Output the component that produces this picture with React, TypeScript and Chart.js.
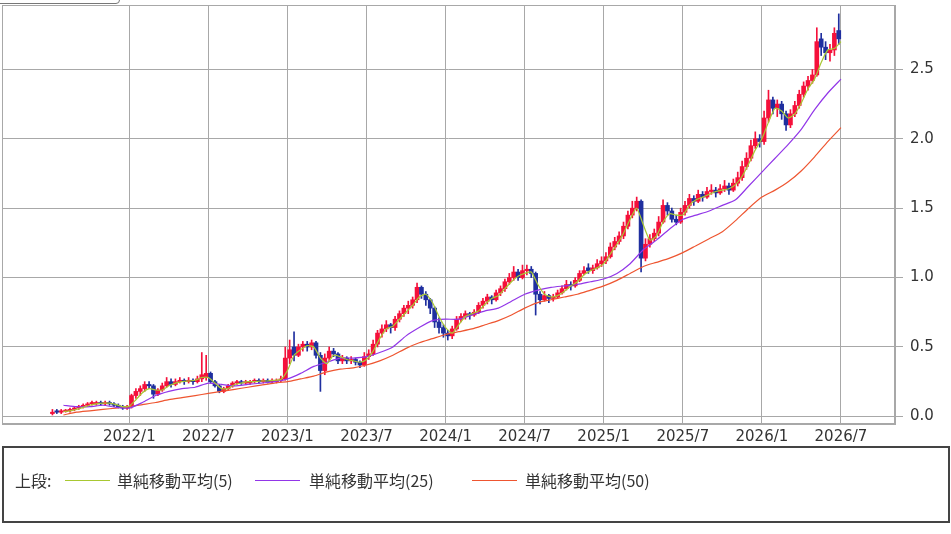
import { useEffect, useRef } from "react";
import { Chart, registerables } from "chart.js";

Chart.register(...registerables);

// x axis unit: months counted from 2021/1 (2022/1 = 12)
const xTickMonths = [12, 18, 24, 30, 36, 42, 48, 54, 60, 66];
const xTickLabels = ["2022/1", "2022/7", "2023/1", "2023/7", "2024/1", "2024/7", "2025/1", "2025/7", "2026/1", "2026/7"];
const yTickValues = [0, 0.5, 1, 1.5, 2, 2.5];

// candles, three per month: [open, high, low, close]
const c2021h2 = [
  [0.02, 0.05, 0.01, 0.03], [0.04, 0.05, 0.02, 0.03], [0.03, 0.05, 0.02, 0.04],
  [0.035, 0.05, 0.03, 0.045], [0.04, 0.06, 0.03, 0.05], [0.05, 0.07, 0.04, 0.06],
  [0.06, 0.08, 0.05, 0.07], [0.07, 0.09, 0.06, 0.08], [0.08, 0.1, 0.07, 0.09],
  [0.09, 0.11, 0.08, 0.1], [0.09, 0.11, 0.08, 0.1], [0.1, 0.11, 0.08, 0.09],
  [0.09, 0.11, 0.08, 0.1], [0.1, 0.11, 0.08, 0.09], [0.09, 0.1, 0.07, 0.08],
  [0.08, 0.09, 0.06, 0.07], [0.07, 0.08, 0.05, 0.06], [0.06, 0.08, 0.05, 0.07],
];
const c2022h1 = [
  [0.07, 0.16, 0.06, 0.15], [0.15, 0.2, 0.13, 0.18], [0.18, 0.22, 0.15, 0.2],
  [0.2, 0.25, 0.18, 0.23], [0.23, 0.25, 0.2, 0.22], [0.22, 0.23, 0.13, 0.16],
  [0.16, 0.2, 0.15, 0.19], [0.19, 0.24, 0.18, 0.22], [0.22, 0.28, 0.21, 0.25],
  [0.25, 0.27, 0.21, 0.23], [0.23, 0.27, 0.22, 0.25], [0.25, 0.28, 0.24, 0.26],
  [0.26, 0.27, 0.23, 0.25], [0.25, 0.28, 0.24, 0.26], [0.26, 0.27, 0.23, 0.25],
  [0.25, 0.29, 0.24, 0.27], [0.27, 0.46, 0.25, 0.3], [0.28, 0.44, 0.26, 0.31],
];
const c2022h2 = [
  [0.31, 0.32, 0.24, 0.25], [0.25, 0.26, 0.21, 0.22], [0.22, 0.23, 0.17, 0.18],
  [0.18, 0.21, 0.17, 0.2], [0.2, 0.23, 0.19, 0.22], [0.22, 0.25, 0.21, 0.24],
  [0.24, 0.26, 0.23, 0.25], [0.25, 0.26, 0.23, 0.24], [0.24, 0.26, 0.23, 0.25],
  [0.24, 0.26, 0.23, 0.25], [0.25, 0.27, 0.24, 0.26], [0.26, 0.27, 0.24, 0.25],
  [0.25, 0.27, 0.24, 0.26], [0.26, 0.27, 0.24, 0.25], [0.25, 0.27, 0.24, 0.26],
  [0.25, 0.27, 0.24, 0.26], [0.26, 0.29, 0.25, 0.27], [0.27, 0.5, 0.26, 0.42],
];
const c2023h1 = [
  [0.42, 0.55, 0.38, 0.48], [0.5, 0.61, 0.4, 0.44], [0.44, 0.52, 0.43, 0.5],
  [0.5, 0.54, 0.47, 0.52], [0.52, 0.54, 0.47, 0.5], [0.5, 0.55, 0.48, 0.53],
  [0.53, 0.54, 0.42, 0.44], [0.44, 0.46, 0.18, 0.33], [0.33, 0.45, 0.3, 0.42],
  [0.42, 0.5, 0.4, 0.47], [0.47, 0.49, 0.43, 0.45], [0.45, 0.46, 0.38, 0.4],
  [0.4, 0.44, 0.38, 0.42], [0.42, 0.43, 0.38, 0.4], [0.4, 0.43, 0.38, 0.41],
  [0.41, 0.42, 0.37, 0.39], [0.39, 0.4, 0.35, 0.37], [0.37, 0.46, 0.36, 0.43],
];
const c2023h2 = [
  [0.43, 0.48, 0.41, 0.45], [0.45, 0.55, 0.44, 0.52], [0.52, 0.62, 0.5, 0.6],
  [0.6, 0.66, 0.57, 0.63], [0.63, 0.69, 0.61, 0.66], [0.66, 0.67, 0.6, 0.64],
  [0.64, 0.72, 0.62, 0.7], [0.7, 0.76, 0.68, 0.74], [0.74, 0.8, 0.72, 0.78],
  [0.78, 0.83, 0.74, 0.8], [0.8, 0.86, 0.78, 0.84], [0.84, 0.96, 0.82, 0.93],
  [0.93, 0.94, 0.85, 0.88], [0.88, 0.9, 0.8, 0.84], [0.84, 0.85, 0.74, 0.78],
  [0.78, 0.79, 0.64, 0.68], [0.68, 0.71, 0.6, 0.64], [0.64, 0.66, 0.57, 0.6],
];
const c2024h1 = [
  [0.6, 0.62, 0.55, 0.58], [0.58, 0.65, 0.56, 0.63], [0.63, 0.72, 0.62, 0.7],
  [0.7, 0.74, 0.68, 0.72], [0.72, 0.76, 0.7, 0.74], [0.74, 0.75, 0.7, 0.73],
  [0.73, 0.77, 0.72, 0.75], [0.75, 0.82, 0.74, 0.8], [0.8, 0.85, 0.78, 0.83],
  [0.83, 0.88, 0.81, 0.86], [0.86, 0.87, 0.81, 0.84], [0.84, 0.91, 0.83, 0.89],
  [0.89, 0.94, 0.87, 0.92], [0.92, 0.99, 0.9, 0.97], [0.97, 1.03, 0.95, 1.0],
  [1.0, 1.08, 0.98, 1.04], [1.04, 1.06, 0.98, 1.0], [1.0, 1.09, 0.99, 1.05],
];
const c2024h2 = [
  [1.05, 1.09, 1.02, 1.06], [1.06, 1.08, 1.0, 1.03], [1.03, 1.04, 0.73, 0.88],
  [0.88, 0.9, 0.81, 0.84], [0.84, 0.9, 0.83, 0.87], [0.87, 0.88, 0.82, 0.85],
  [0.85, 0.88, 0.83, 0.86], [0.86, 0.91, 0.85, 0.89], [0.89, 0.94, 0.88, 0.92],
  [0.92, 0.98, 0.91, 0.95], [0.95, 0.97, 0.91, 0.94], [0.94, 1.0, 0.93, 0.98],
  [0.98, 1.05, 0.97, 1.03], [1.03, 1.08, 1.02, 1.05], [1.07, 1.1, 1.03, 1.05],
  [1.05, 1.09, 1.03, 1.07], [1.07, 1.13, 1.06, 1.1], [1.1, 1.15, 1.08, 1.12],
];
const c2025h1 = [
  [1.12, 1.18, 1.1, 1.15], [1.15, 1.25, 1.14, 1.22], [1.22, 1.29, 1.2, 1.26],
  [1.26, 1.33, 1.24, 1.3], [1.3, 1.4, 1.28, 1.37], [1.37, 1.48, 1.35, 1.45],
  [1.45, 1.55, 1.43, 1.5], [1.5, 1.58, 1.48, 1.55], [1.55, 1.56, 1.04, 1.14],
  [1.14, 1.28, 1.12, 1.24], [1.24, 1.31, 1.22, 1.28], [1.28, 1.35, 1.26, 1.32],
  [1.32, 1.44, 1.3, 1.4], [1.4, 1.56, 1.39, 1.52], [1.52, 1.54, 1.45, 1.48],
  [1.48, 1.5, 1.4, 1.42], [1.42, 1.45, 1.38, 1.4], [1.4, 1.5, 1.39, 1.47],
];
const c2025h2 = [
  [1.47, 1.55, 1.45, 1.52], [1.52, 1.6, 1.5, 1.57], [1.57, 1.59, 1.52, 1.55],
  [1.55, 1.63, 1.54, 1.6], [1.6, 1.62, 1.55, 1.58], [1.58, 1.65, 1.57, 1.62],
  [1.62, 1.67, 1.6, 1.63], [1.63, 1.65, 1.58, 1.61], [1.61, 1.67, 1.6, 1.64],
  [1.64, 1.7, 1.62, 1.66], [1.66, 1.68, 1.6, 1.63], [1.63, 1.71, 1.62, 1.68],
  [1.68, 1.76, 1.66, 1.72], [1.72, 1.84, 1.7, 1.8], [1.8, 1.9, 1.78, 1.86],
  [1.86, 1.99, 1.84, 1.95], [1.95, 2.05, 1.93, 2.0], [2.0, 2.03, 1.94, 1.98],
];
const c2026h1 = [
  [1.98, 2.2, 1.96, 2.15], [2.15, 2.35, 2.12, 2.28], [2.28, 2.3, 2.18, 2.22],
  [2.22, 2.28, 2.16, 2.25], [2.25, 2.27, 2.14, 2.18], [2.18, 2.2, 2.06, 2.1],
  [2.1, 2.21, 2.08, 2.18], [2.18, 2.27, 2.16, 2.24], [2.24, 2.35, 2.22, 2.32],
  [2.32, 2.41, 2.3, 2.38], [2.38, 2.45, 2.35, 2.42], [2.42, 2.5, 2.4, 2.46],
  [2.46, 2.8, 2.45, 2.7], [2.72, 2.76, 2.6, 2.66], [2.66, 2.7, 2.57, 2.62],
  [2.62, 2.68, 2.56, 2.64], [2.64, 2.8, 2.6, 2.76], [2.78, 2.9, 2.68, 2.72],
];
const candleBlocks = [c2021h2, c2022h1, c2022h2, c2023h1, c2023h2, c2024h1, c2024h2, c2025h1, c2025h2, c2026h1];
const blockStartMonths = [6, 12, 18, 24, 30, 36, 42, 48, 54, 60];

// moving averages
const ma5Start = 7; // every half month
const ma5 = [
  0.035, 0.04, 0.05, 0.065, 0.08, 0.09, 0.095, 0.095, 0.085, 0.07,
  0.075, 0.12, 0.17, 0.2, 0.19, 0.19, 0.22, 0.24, 0.25, 0.255, 0.26, 0.28,
  0.28, 0.24, 0.2, 0.2, 0.23, 0.24, 0.25, 0.25, 0.255, 0.255, 0.26, 0.265,
  0.33, 0.44, 0.48, 0.51, 0.5, 0.42, 0.38, 0.44, 0.43, 0.41, 0.4, 0.39,
  0.41, 0.47, 0.56, 0.63, 0.65, 0.7, 0.75, 0.8, 0.86, 0.88, 0.82, 0.72,
  0.64, 0.6, 0.66, 0.72, 0.74, 0.76, 0.81, 0.85, 0.87, 0.92, 0.97, 1.01,
  1.03, 1.04, 0.95, 0.88, 0.86, 0.87, 0.9, 0.94, 0.97, 1.02, 1.05, 1.07,
  1.1, 1.17, 1.24, 1.32, 1.42, 1.5, 1.38, 1.27, 1.3, 1.4, 1.46, 1.45,
  1.45, 1.52, 1.56, 1.58, 1.6, 1.62, 1.63, 1.64, 1.67, 1.73, 1.82, 1.92,
  2.0, 2.12, 2.22, 2.2, 2.15, 2.18, 2.26, 2.36, 2.43, 2.55, 2.64, 2.65,
  2.7,
];
const maStart = 7; // every month
const ma25 = [
  0.08, 0.07, 0.07, 0.08, 0.065, 0.06, 0.1, 0.15, 0.18, 0.2,
  0.21, 0.24, 0.23, 0.22, 0.23, 0.24, 0.25, 0.27, 0.31, 0.36,
  0.39, 0.42, 0.42, 0.43, 0.46, 0.5, 0.58, 0.64, 0.69, 0.7,
  0.7, 0.73, 0.76, 0.78, 0.83, 0.88, 0.91, 0.93, 0.94, 0.95,
  0.97, 0.99, 1.03, 1.1, 1.2, 1.27, 1.35, 1.42, 1.45, 1.48,
  1.52, 1.56, 1.66, 1.76, 1.86, 1.96, 2.07, 2.21, 2.33, 2.43,
];
const ma50 = [
  0.01, 0.03, 0.04, 0.05, 0.06, 0.07, 0.085, 0.1, 0.12, 0.135,
  0.15, 0.165, 0.18, 0.195, 0.21, 0.225, 0.24, 0.25, 0.27, 0.29,
  0.32, 0.34, 0.35, 0.37, 0.4, 0.44, 0.49, 0.53, 0.56, 0.59,
  0.61, 0.63, 0.66, 0.69, 0.73, 0.78, 0.82, 0.84, 0.86, 0.88,
  0.91, 0.94, 0.98, 1.03, 1.08, 1.11, 1.14, 1.18, 1.23, 1.28,
  1.33, 1.41, 1.5, 1.58, 1.63, 1.69, 1.77, 1.87, 1.98, 2.08,
];

const UP = "#f5103a";
const DOWN = "#1f2f9f";
const MA5_COLOR = "#a8c832";
const MA25_COLOR = "#9236e8";
const MA50_COLOR = "#ee5530";
const GRID = "#a8a8a8";
const TEXT = "#333";

const candles = candleBlocks.flatMap((block, b) =>
  block.map(([o, h, l, c], i) => ({ x: blockStartMonths[b] + (i + 0.5) / 3, o, h, l, c }))
);

const frame = {
  id: "frame",
  beforeDatasetsDraw(chart: Chart) {
    const { ctx, chartArea: a } = chart;
    ctx.save();
    ctx.strokeStyle = GRID;
    ctx.lineWidth = 1;
    ctx.strokeRect(a.left + 0.5, a.top + 0.5, a.right - a.left - 1, a.bottom - a.top - 1);
    ctx.restore();
  },
};

function PriceChart() {
  const canvasRef = useRef<HTMLCanvasElement>(null);

  useEffect(() => {
    if (!canvasRef.current) return;
    const colorOf = (k: { o: number; c: number }) => (k.c >= k.o ? UP : DOWN);
    const line = (label: string, values: number[], start: number, step: number, color: string, order: number) => ({
      type: "line" as const,
      label,
      data: values.map((v, i) => ({ x: start + i * step, y: v })),
      borderColor: color,
      borderWidth: 1.2,
      pointRadius: 0,
      tension: 0.2,
      order,
    });

    const chart = new Chart(canvasRef.current, {
      type: "bar",
      data: {
        datasets: [
          line("単純移動平均(5)", ma5, ma5Start, 0.5, MA5_COLOR, 0),
          line("単純移動平均(25)", ma25, maStart, 1, MA25_COLOR, 1),
          line("単純移動平均(50)", ma50, maStart, 1, MA50_COLOR, 2),
          {
            type: "bar",
            label: "body",
            data: candles.map((k) => ({ x: k.x, y: [k.o, k.c] })) as any,
            backgroundColor: candles.map(colorOf),
            barThickness: 4,
            minBarLength: 1,
            grouped: false,
            order: 3,
          },
          {
            type: "bar",
            label: "wick",
            data: candles.map((k) => ({ x: k.x, y: [k.l, k.h] })) as any,
            backgroundColor: candles.map(colorOf),
            barThickness: 1,
            grouped: false,
            order: 4,
          },
        ],
      },
      options: {
        responsive: true,
        maintainAspectRatio: false,
        animation: false,
        layout: { padding: { left: 2, top: 5, right: 0, bottom: 0 } },
        plugins: { legend: { display: false }, tooltip: { enabled: false } },
        scales: {
          x: {
            type: "linear",
            min: 2.34,
            max: 70.1,
            offset: false,
            afterBuildTicks: (axis: any) => {
              axis.ticks = xTickMonths.map((v) => ({ value: v }));
            },
            afterFit: (axis: any) => {
              axis.height = 26;
              axis.paddingLeft = 0;
              axis.paddingRight = 0;
            },
            ticks: {
              autoSkip: false,
              maxRotation: 0,
              padding: 4,
              color: TEXT,
              font: { family: "DejaVu Sans", size: 15 },
              callback: (_v: any, i: number) => xTickLabels[i],
            },
            grid: { color: GRID, lineWidth: 1, drawTicks: false, offset: false },
            border: { color: GRID },
          },
          y: {
            type: "linear",
            position: "right",
            min: -0.055,
            max: 2.964,
            afterBuildTicks: (axis: any) => {
              axis.ticks = yTickValues.map((v) => ({ value: v }));
            },
            afterFit: (axis: any) => {
              axis.width = 56;
              axis.paddingTop = 0;
              axis.paddingBottom = 0;
            },
            ticks: {
              padding: 7,
              color: TEXT,
              font: { family: "DejaVu Sans", size: 15 },
              callback: (v: any) => Number(v).toFixed(1),
            },
            grid: { color: GRID, lineWidth: 1, tickLength: 8 },
            border: { color: GRID },
          },
        },
      },
      plugins: [frame],
    });
    return () => chart.destroy();
  }, []);

  return (
    <div style={{ position: "absolute", left: 0, top: 0, width: 951, height: 450 }}>
      <canvas ref={canvasRef} />
    </div>
  );
}

const legendItems = [
  { label: "単純移動平均(5)", color: MA5_COLOR, lineLeft: 63, textLeft: 115 },
  { label: "単純移動平均(25)", color: MA25_COLOR, lineLeft: 253, textLeft: 307 },
  { label: "単純移動平均(50)", color: MA50_COLOR, lineLeft: 470, textLeft: 523 },
];

export default function App() {
  const font = '"Noto Sans CJK JP", "Noto Sans", sans-serif';
  return (
    <div style={{ position: "absolute", left: 0, top: 0, width: 951, height: 534, background: "#fff", overflow: "hidden" }}>
      <div
        style={{
          position: "absolute",
          left: -2,
          top: -5,
          width: 120,
          height: 7,
          border: "1px solid #777",
          borderRadius: "0 0 4px 0",
        }}
      />
      <PriceChart />
      <div
        style={{
          position: "absolute",
          left: 2,
          top: 446,
          width: 944,
          height: 73,
          border: "2px solid #444",
          fontFamily: font,
          fontSize: 16,
          color: TEXT,
        }}
      >
        <span style={{ position: "absolute", left: 11, top: 20, lineHeight: "24px" }}>上段:</span>
        {legendItems.map((it) => (
          <div key={it.label}>
            <div
              style={{
                position: "absolute",
                left: it.lineLeft - 2,
                top: 32,
                width: 45,
                height: 1,
                background: it.color,
              }}
            />
            <span style={{ position: "absolute", left: it.textLeft - 2, top: 20, lineHeight: "24px", whiteSpace: "nowrap" }}>
              {it.label}
            </span>
          </div>
        ))}
      </div>
    </div>
  );
}
